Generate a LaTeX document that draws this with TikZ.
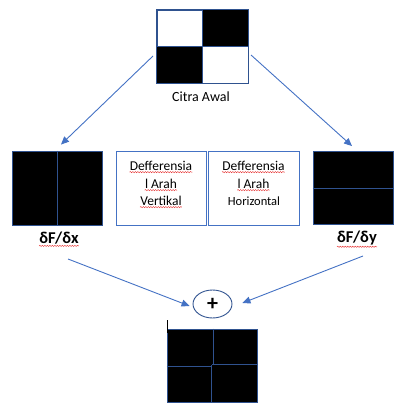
\documentclass[tikz,border=0pt]{standalone}
\usepackage{fontspec}
\setmainfont{Carlito}
\usetikzlibrary{arrows.meta,shapes.geometric,decorations.pathmorphing}
\definecolor{boxblue}{RGB}{47,82,143}
\definecolor{arrblue}{RGB}{68,114,196}
\definecolor{spellred}{RGB}{230,40,40}
\tikzset{
  imgbox/.style={draw=boxblue,line width=0.9pt,fill=black,inner sep=0pt,minimum width=#1},
  txtbox/.style={draw=arrblue,line width=0.9pt,fill=white,inner sep=0pt,minimum width=90pt,minimum height=74pt},
  arr/.style={draw=arrblue,line width=0.9pt,-{Triangle[length=8pt,width=7pt]}},
  divider/.style={draw=boxblue,line width=0.9pt},
  squig/.style={draw=spellred,line width=0.45pt,decorate,decoration={snake,amplitude=0.6pt,segment length=2.5pt}},
  lbl/.style={inner sep=0pt,font=\fontsize{14}{16}\selectfont},
  bl/.style={inner sep=0pt,font=\fontsize{13.5}{16}\selectfont},
  dlbl/.style={inner sep=0pt,font=\fontsize{16.5}{18}\selectfont\bfseries}
}
\begin{document}
\begin{tikzpicture}[x=1pt,y=-1pt]
\useasboundingbox (0,0) rectangle (396,403);
% top image
\node[draw=boxblue,line width=0.9pt,fill=white,inner sep=0pt,minimum width=91pt,minimum height=73pt] (top) at (202.5,46.5) {};
\fill[black] (top.north) rectangle (top.east);
\fill[black] (top.west) rectangle (top.south);
\draw[divider] (top.north west) rectangle (top.south east);
\draw[divider] (top.north) -- (top.south);
\draw[divider] (top.west) -- (top.east);
\node[lbl] (citra) at (201,97) {Citra Awal};

% left dF/dx
\node[imgbox=90pt,minimum height=74pt] (dx) at (57,188) {};
\draw[divider] (dx.north) -- (dx.south);
\node[dlbl] (dxl) at (59,238) {δF/δx};
\draw[squig] ([yshift=-1.5pt]dxl.south west) -- ([yshift=-1.5pt]dxl.south east);

% text boxes
\node[txtbox] (vt) at (161,188) {};
\node[bl] (vt1) at (161,166) {Defferensia};
\node[bl] (vt2) at (161,184) {l Arah};
\node[bl] (vt3) at (161,201) {Vertikal};
\node[txtbox,minimum width=91pt] (hz) at (253.5,188) {};
\node[bl] (hz1) at (253.5,166) {Defferensia};
\node[bl] (hz2) at (253.5,184) {l Arah};
\node[bl,font=\fontsize{12.5}{14}\selectfont] (hz3) at (254,201) {Horizontal};
% spell-check squiggles
\foreach \n in {vt1,vt2,vt3,hz1,hz2}{
  \draw[squig] ([yshift=-1.2pt]\n.south west) -- ([yshift=-1.2pt]\n.south east);
}

% right dF/dy
\node[imgbox=80pt,minimum height=73pt] (dy) at (353,188) {};
\draw[divider] (dy.west) -- (dy.east);
\node[dlbl] (dyl) at (357,238) {δF/δy};
\draw[squig] ([yshift=-1.5pt]dyl.south west) -- ([yshift=-1.5pt]dyl.south east);

% plus circle
\node[ellipse,draw=boxblue,line width=0.9pt,minimum width=39pt,minimum height=28pt,inner sep=0pt,font=\fontsize{22}{22}\selectfont\bfseries] (plus) at (212.5,304) {+};

% result image
\node[imgbox=90pt,minimum height=73pt] (res) at (212,365.5) {};
\coordinate (rm) at (213,365);
\draw[divider] (res.north -| rm) -- (rm);
\draw[divider] (211,365) -- (res.south -| 211,0);
\draw[divider] (res.west |- 0,366) -- (212,366);
\draw[divider] (212,364) -- (res.east |- 0,364);
\coordinate (cur) at (167,320);
\draw[black,line width=0.8pt] (cur) -- ++(0,13);

% arrows
\coordinate (a1s) at (153,56);
\coordinate (a2s) at (251,55);
\coordinate (a3s) at (68,259);
\coordinate (a4s) at (363,256);
\draw[arr] (a1s) -- ([xshift=4pt,yshift=6pt]dx.north);
\draw[arr] (a2s) -- ([xshift=-1pt,yshift=5pt]dy.north);
\draw[arr] (a3s) -- ([xshift=-3pt,yshift=-2pt]plus.west);
\draw[arr] (a4s) -- ([xshift=10pt,yshift=1pt]plus.east);
\end{tikzpicture}
\end{document}
